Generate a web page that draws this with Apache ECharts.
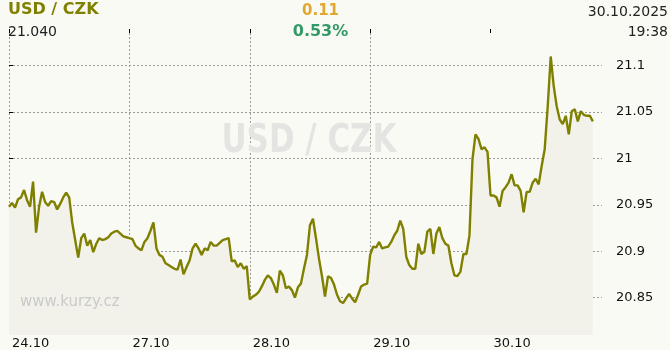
<!DOCTYPE html>
<html><head><meta charset="utf-8">
<script src="https://cdn.jsdelivr.net/npm/echarts@6/dist/echarts.min.js"></script>
<style>html,body{margin:0;padding:0;background:#fafaf5}#c{width:670px;height:350px}</style>
</head><body><div id="c"></div>
<script>
const dayLabels = ['24.10', '27.10', '28.10', '29.10', '30.10'];
const dayTicks = [0, 1, 2, 3, 4];
const yTicks = [20.85, 20.9, 20.95, 21, 21.05, 21.1];
const pointsPerDay = 40;

const day24 = [20.948,20.952,20.947,20.956,20.958,20.966,20.955,20.948,20.975,20.920,20.948,20.964,20.953,20.949,20.954,20.953,20.945,20.951,20.958,20.963,20.958,20.931,20.912,20.893,20.914,20.919,20.906,20.912,20.899,20.908,20.914,20.912,20.913,20.915,20.919,20.921,20.922,20.919,20.916,20.915];
const day27 = [20.914,20.913,20.906,20.903,20.901,20.910,20.914,20.922,20.931,20.903,20.896,20.894,20.887,20.885,20.883,20.881,20.880,20.891,20.875,20.883,20.890,20.903,20.908,20.903,20.896,20.903,20.901,20.910,20.906,20.906,20.909,20.912,20.913,20.914,20.889,20.890,20.883,20.887,20.881,20.884];
const day28 = [20.848,20.851,20.853,20.856,20.862,20.869,20.874,20.871,20.864,20.855,20.879,20.874,20.860,20.862,20.858,20.850,20.861,20.865,20.881,20.896,20.928,20.935,20.914,20.892,20.873,20.851,20.873,20.871,20.864,20.853,20.846,20.844,20.849,20.854,20.849,20.845,20.853,20.862,20.864,20.865];
const day29 = [20.896,20.905,20.904,20.910,20.903,20.904,20.905,20.910,20.917,20.922,20.933,20.924,20.894,20.885,20.881,20.881,20.908,20.897,20.899,20.921,20.924,20.897,20.919,20.926,20.914,20.908,20.906,20.887,20.874,20.873,20.878,20.897,20.897,20.917,20.999,21.026,21.021,21.010,21.012,21.007];
const day30 = [20.960,20.960,20.958,20.948,20.965,20.969,20.974,20.983,20.971,20.971,20.965,20.942,20.964,20.964,20.974,20.978,20.972,20.992,21.010,21.056,21.110,21.078,21.056,21.042,21.037,21.046,21.026,21.051,21.053,21.040,21.051,21.047,21.046,21.046,21.040];

const days = [day24, day27, day28, day29, day30];
const data = [];
days.forEach((arr, d) => arr.forEach((v, k) => data.push([d + k / pointsPerDay, v])));

const yMin = 20.8096, yMax = 21.1396;
const xMin = 0, xMax = 4.926;
const FONT = 'DejaVu Sans';
const grid = '#9a9a9a';

// scale the watermark to the width it has in the reference
const wmFont = 'bold 39px "DejaVu Sans"';
const mctx = document.createElement('canvas').getContext('2d');
mctx.font = wmFont;
const wmScale = 175 / mctx.measureText('USD / CZK').width;

const chart = echarts.init(document.getElementById('c'), null, {renderer: 'canvas'});
chart.setOption({
  backgroundColor: '#fafaf5',
  animation: false,
  grid: {left: 9, right: 68, top: 29, bottom: 13},
  xAxis: [{
    type: 'value', position: 'bottom', min: xMin, max: xMax,
    axisLine: {show: false},
    axisTick: {inside: true, length: 4, customValues: dayTicks, lineStyle: {color: '#000'}},
    axisLabel: {customValues: dayTicks, formatter: v => dayLabels[Math.round(v)] || '', align: 'left',
      padding: [0, 0, 0, 3], margin: 2, color: '#111', fontFamily: FONT, fontSize: 13},
    splitLine: {show: true, showMaxLine: false, lineStyle: {color: grid, type: [2, 2], width: 1}}
  }, {
    type: 'value', position: 'top', min: xMin, max: xMax,
    axisLine: {show: false},
    axisTick: {inside: true, length: 4, customValues: dayTicks, lineStyle: {color: '#000'}},
    axisLabel: {show: false},
    splitLine: {show: false}
  }],
  yAxis: [{
    type: 'value', position: 'right', min: yMin, max: yMax,
    axisLine: {show: false},
    axisTick: {inside: false, length: 4, customValues: yTicks, lineStyle: {color: '#000'}},
    axisLabel: {customValues: yTicks, margin: 14, color: '#111', fontFamily: FONT, fontSize: 13,
      formatter: v => String(+v.toFixed(2))},
    splitLine: {show: true, lineStyle: {color: grid, type: [2, 2], width: 1}}
  }, {
    type: 'value', position: 'left', min: yMin, max: yMax,
    axisLine: {show: false},
    axisTick: {inside: true, length: 4, customValues: yTicks, lineStyle: {color: '#000'}},
    axisLabel: {show: false},
    splitLine: {show: false}
  }],
  graphic: [
    {type: 'text', z: 10, x: 309, y: 142, scaleX: wmScale, scaleY: 1,
      style: {text: 'USD / CZK', x: 0, y: 0, align: 'center', verticalAlign: 'middle', font: wmFont, fill: '#e4e4e2'}},
    {type: 'text', z: 10, x: 20, y: 302,
      style: {text: 'www.kurzy.cz', x: 0, y: 0, verticalAlign: 'middle', font: '15px "DejaVu Sans"', fill: '#cacaca'}},
    {type: 'text', z: 10, x: 8, y: 10,
      style: {text: 'USD / CZK', x: 0, y: 0, verticalAlign: 'middle', font: 'bold 16px "DejaVu Sans"', fill: '#808000'}},
    {type: 'text', z: 10, x: 8, y: 32,
      style: {text: '21.040', x: 0, y: 0, verticalAlign: 'middle', font: '14px "DejaVu Sans"', fill: '#222'}},
    {type: 'text', z: 10, x: 320.5, y: 11,
      style: {text: '0.11', x: 0, y: 0, align: 'center', verticalAlign: 'middle', font: 'bold 15px "DejaVu Sans"', fill: '#e0a830'}},
    {type: 'text', z: 10, x: 320.5, y: 31.5,
      style: {text: '0.53%', x: 0, y: 0, align: 'center', verticalAlign: 'middle', font: 'bold 16px "DejaVu Sans"', fill: '#339966'}},
    {type: 'text', z: 10, x: 668, y: 12.5,
      style: {text: '30.10.2025', x: 0, y: 0, align: 'right', verticalAlign: 'middle', font: '14px "DejaVu Sans"', fill: '#222'}},
    {type: 'text', z: 10, x: 668, y: 32,
      style: {text: '19:38', x: 0, y: 0, align: 'right', verticalAlign: 'middle', font: '14px "DejaVu Sans"', fill: '#222'}}
  ],
  series: [{
    type: 'line', xAxisIndex: 0, yAxisIndex: 0, data: data, showSymbol: false,
    lineStyle: {color: '#808000', width: 2.4},
    areaStyle: {color: '#f2f2ea', opacity: 1, origin: 'start'},
    z: 5
  }]
});
</script></body></html>
